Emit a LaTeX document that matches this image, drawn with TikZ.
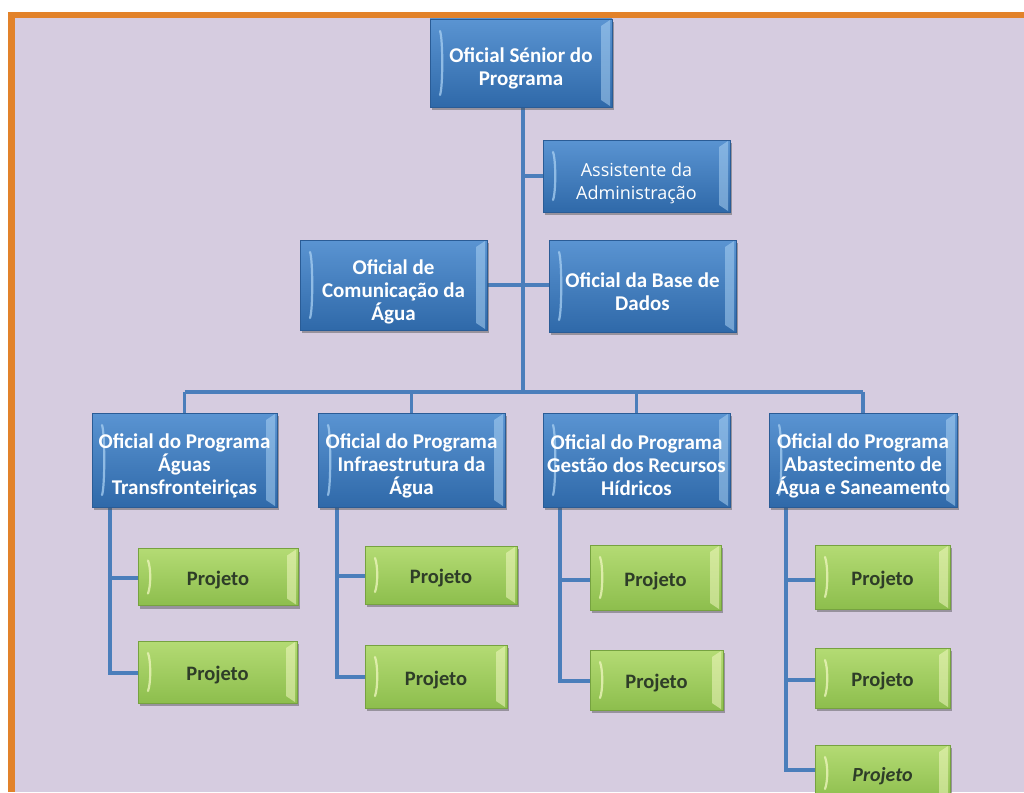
\documentclass[tikz,border=0pt]{standalone}
\usepackage{fontspec}
\setmainfont{Carlito}
\newfontfamily\osans{Open Sans}
\usetikzlibrary{shadows}
\definecolor{bg}{HTML}{D6CCE0}
\definecolor{framec}{HTML}{E2822A}
\definecolor{blueT}{HTML}{5A94D2}
\definecolor{blueB}{HTML}{2F69A9}
\definecolor{blueE}{HTML}{2A5C96}
\definecolor{blueHi}{HTML}{A9D0F2}
\definecolor{greenT}{HTML}{B4DB74}
\definecolor{greenB}{HTML}{8DBE4D}
\definecolor{greenE}{HTML}{76A240}
\definecolor{greenHi}{HTML}{F0F7C0}
\definecolor{projtxt}{HTML}{2E3D28}
\definecolor{wire}{HTML}{4B7EBB}
\newcommand\dn[1]{\rule{0pt}{#1}}
\begin{document}
\begin{tikzpicture}[x=1pt,y=-1pt,
 bevel/.style={path picture={
   \draw[#1,line width=2.2pt,line cap=round,opacity=0.75]
     ([xshift=10pt,yshift=-12pt]path picture bounding box.north west)
     .. controls ([xshift=13pt,yshift=-20pt]path picture bounding box.north west) and ([xshift=13pt,yshift=20pt]path picture bounding box.south west) ..
     ([xshift=10pt,yshift=12pt]path picture bounding box.south west);
   \fill[#1,opacity=0.55]
     ([xshift=-11pt,yshift=-7pt]path picture bounding box.north east)
     -- ([xshift=-2pt,yshift=-1pt]path picture bounding box.north east)
     -- ([xshift=-2pt,yshift=1pt]path picture bounding box.south east)
     -- ([xshift=-11pt,yshift=7pt]path picture bounding box.south east) -- cycle;
 }},
 shade/.style={drop shadow={shadow xshift=2pt,shadow yshift=-3pt,opacity=0.45,fill=black!70}},
 bluebox/.style={draw=blueE, line width=0.8pt, top color=blueT, bottom color=blueB,
   text=white, font=\bfseries\fontsize{21}{23}\selectfont, align=center,
   inner sep=1pt, shade, bevel=blueHi},
 greenbox/.style={draw=greenE, line width=0.8pt, top color=greenT, bottom color=greenB,
   text=projtxt, font=\bfseries\fontsize{20.5}{22}\selectfont, align=center,
   inner sep=1pt, shade, bevel=greenHi},
 wirec/.style={draw=wire, line width=3.3pt}
]
\useasboundingbox (0,0) rectangle (1024,792);
\clip (0,0) rectangle (1024,792);
% background and frame
\fill[white] (0,0) rectangle (1024,792);
\fill[bg] (15,18) rectangle (1024,792);
\fill[framec] (8,12) rectangle (1024,18);
\fill[framec] (8,12) rectangle (15,792);

% coordinates for connectors
\coordinate (bus) at (523,392);
\coordinate (c1) at (110,507);
\coordinate (c2) at (337,507);
\coordinate (c3) at (560,507);
\coordinate (c4) at (786,507);

% connectors (drawn first, behind boxes)
\begin{scope}[wirec]
\draw (523,100) -- (bus);
\draw (523,176) -- (560,176);
\draw (450,285) -- (570,285);
\draw (184.5,392) -- (863,392);
\foreach \x in {184.5,411.5,636.5,863} \draw (\x,392) -- (\x,420);
\draw (c1) |- (200,673); \draw (110,578) -- (200,578);
\draw (c2) |- (420,677); \draw (337,576) -- (420,576);
\draw (c3) |- (640,681); \draw (560,580) -- (640,580);
\draw (c4) |- (860,770); \draw (786,580) -- (860,580); \draw (786,680) -- (860,680);
\end{scope}

% top levels
\node[bluebox, minimum width=182pt, minimum height=88pt] (top) at (521,63)
  {\dn{26pt}Oficial Sénior do\\Programa};
\node[bluebox, minimum width=187pt, minimum height=72pt,
  font=\osans\fontsize{18}{23}\selectfont] (assist) at (636.5,176)
  {\dn{28pt}Assistente da\\Administração};
\node[bluebox, minimum width=187pt, minimum height=90pt] (comm) at (393.5,285)
  {\dn{28pt}Oficial de\\Comunicação da\\Água};
\node[bluebox, minimum width=187pt, minimum height=92pt] (base) at (642.5,286)
  {\dn{26pt}Oficial da Base de\\Dados};

% program officers
\node[bluebox, minimum width=185pt, minimum height=94pt] (b1) at (184.5,460)
  {\dn{26pt}Oficial do Programa\\Águas\\Transfronteiriças};
\node[bluebox, minimum width=187pt, minimum height=94pt] (b2) at (411.5,460)
  {\dn{26pt}Oficial do Programa\\Infraestrutura da\\Água};
\node[bluebox, minimum width=187pt, minimum height=94pt] (b3) at (636.5,460)
  {\dn{26pt}Oficial do Programa\\Gestão dos Recursos\\Hídricos};
\node[bluebox, minimum width=188pt, minimum height=94pt] (b4) at (863,460)
  {\dn{26pt}Oficial do Programa\\Abastecimento de\\Água e Saneamento};

% projects
\node[greenbox, minimum width=160pt, minimum height=57pt] (p11) at (218,577) {\dn{21pt}Projeto};
\node[greenbox, minimum width=159pt, minimum height=62pt] (p12) at (217.5,672) {\dn{21pt}Projeto};
\node[greenbox, minimum width=152pt, minimum height=58pt] (p21) at (441,575) {\dn{21pt}Projeto};
\node[greenbox, minimum width=142pt, minimum height=63pt] (p22) at (436,676.5) {\dn{21pt}Projeto};
\node[greenbox, minimum width=131pt, minimum height=65pt] (p31) at (655.5,577.5) {\dn{21pt}Projeto};
\node[greenbox, minimum width=133pt, minimum height=60pt] (p32) at (656.5,680) {\dn{21pt}Projeto};
\node[greenbox, minimum width=135pt, minimum height=64pt] (p41) at (882.5,577) {\dn{21pt}Projeto};
\node[greenbox, minimum width=135pt, minimum height=60pt] (p42) at (882.5,678) {\dn{21pt}Projeto};
\node[greenbox, minimum width=135pt, minimum height=56pt, font=\bfseries\itshape\fontsize{20}{22}\selectfont] (p43) at (882.5,773) {\dn{21pt}Projeto};
\end{tikzpicture}
\end{document}
